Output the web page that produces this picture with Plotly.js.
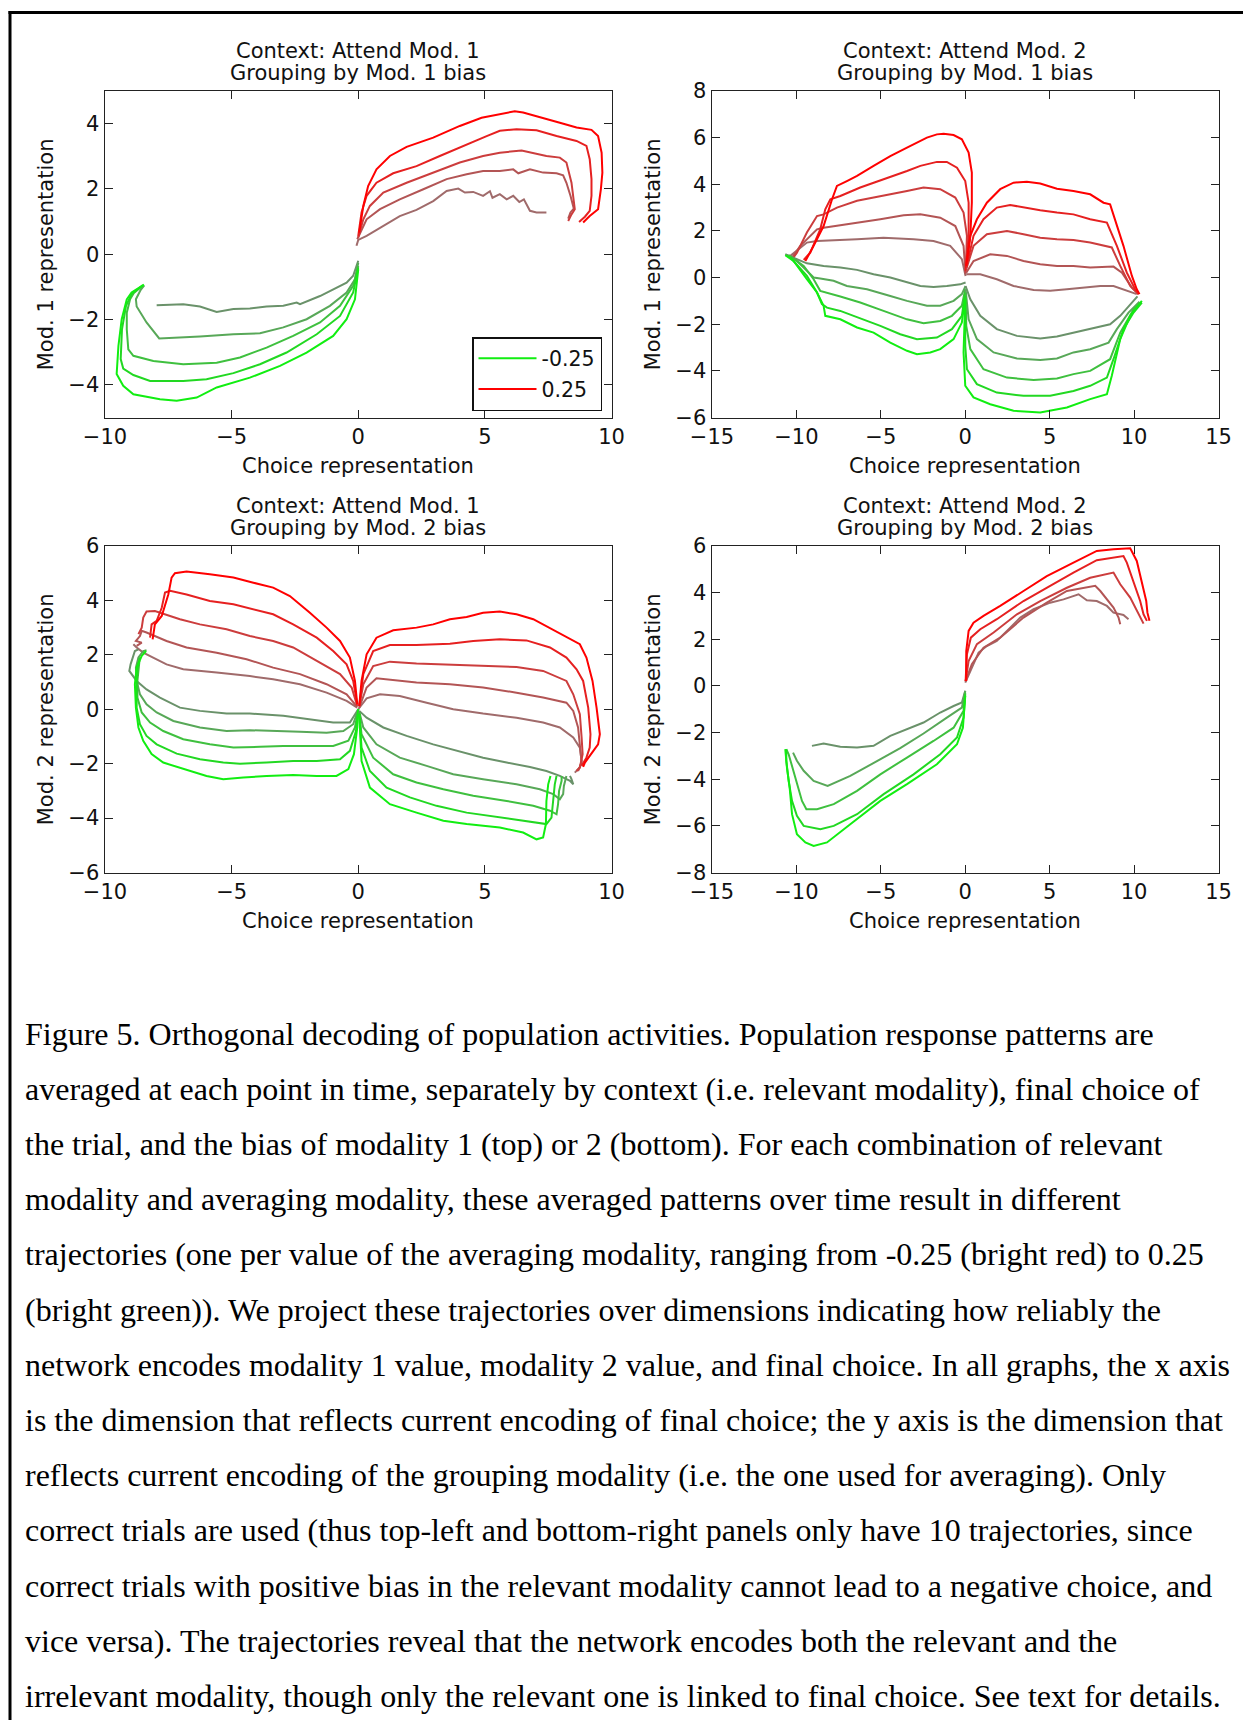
<!DOCTYPE html>
<html><head><meta charset="utf-8">
<script src="https://cdn.plot.ly/plotly-3.0.1.min.js"></script>
<style>html,body{margin:0;padding:0;background:#fff;}#chart{width:1243px;height:1720px;}</style>
</head><body><div id="chart"></div>
<script>
// ---------- shades (index 0 = bias ±0.25, brightest) ----------
const redShades   = ['#ff0000', '#e62020', '#cc3d3d', '#b35555', '#a06b6b'];
const greenShades = ['#11ee11', '#22d822', '#3fc03f', '#58a858', '#6a926a'];
const legendLabels = ['-0.25', '0.25'];

// ---------- Panel A: Attend Mod. 1, grouping by Mod. 1 bias ----------
const aRedX = [
 [0.04,0.20,0.39,0.72,1.25,1.91,2.96,4.01,4.87,5.59,6.18,6.51,7.30,7.96,8.62,9.21,9.47,9.61,9.64,9.58,9.47,9.14,8.88],
 [0.0,0.13,0.33,0.72,1.38,2.30,3.22,4.28,5.07,5.59,6.25,7.04,7.83,8.62,9.01,9.14,9.21,9.21,9.14,8.95,8.72],
 [0.0,0.20,0.46,0.99,1.91,2.96,4.01,4.93,5.59,6.45,6.91,7.43,7.96,8.22,8.42,8.49,8.55,8.42,8.29],
 [-0.04,0.33,0.86,1.64,2.57,3.49,4.28,4.93,5.59,6.12,6.32,6.78,7.30,7.83,8.09,8.22,8.38,8.51,8.38,8.29],
 [-0.07,0.0,0.33,0.99,1.64,2.30,2.96,3.49,3.95,4.21,4.54,4.93,5.20,5.30,5.59,5.86,6.12,6.36,6.54,6.78,7.04,7.43]
];
const aRedY = [
 [0.66,1.48,2.09,2.60,3.01,3.29,3.57,3.93,4.18,4.29,4.38,4.34,4.18,4.03,3.88,3.81,3.62,3.11,2.50,1.99,1.38,1.17,0.97],
 [0.56,1.28,1.79,2.19,2.48,2.70,3.01,3.37,3.62,3.78,3.83,3.80,3.62,3.47,3.32,2.91,2.30,1.79,1.33,1.15,0.99],
 [0.51,1.07,1.48,1.89,2.19,2.50,2.81,3.01,3.11,3.18,3.11,3.01,2.96,2.81,2.19,1.68,1.38,1.22,1.02],
 [0.46,1.07,1.38,1.68,1.99,2.30,2.45,2.55,2.55,2.60,2.48,2.60,2.50,2.48,2.42,2.19,1.79,1.40,1.28,1.09],
 [0.26,0.44,0.56,0.87,1.17,1.36,1.63,1.94,2.01,1.89,1.91,1.79,1.93,1.73,1.84,1.68,1.79,1.60,1.68,1.33,1.28,1.28]
];
const aGreenX = [
 [0,-0.13,-0.46,-0.99,-2.04,-3.09,-4.28,-5.59,-6.38,-7.17,-7.83,-8.88,-9.28,-9.54,-9.47,-9.34,-9.14,-8.95,-8.46],
 [0,-0.20,-0.72,-1.64,-2.83,-3.88,-4.93,-5.99,-6.91,-8.22,-8.88,-9.28,-9.38,-9.33,-9.17,-8.95,-8.51],
 [0,-0.20,-0.72,-1.51,-2.57,-3.62,-4.67,-5.59,-6.91,-8.09,-8.88,-9.08,-9.14,-9.14,-9.01,-8.86,-8.49],
 [0,-0.13,-0.46,-1.12,-2.04,-2.96,-3.88,-4.93,-6.25,-6.91,-7.86,-8.36,-8.75,-8.78,-8.59,-8.45],
 [0,-0.20,-0.46,-0.99,-1.51,-2.30,-2.43,-2.96,-3.62,-4.28,-4.93,-5.59,-6.25,-6.91,-7.57,-7.96]
];
const aGreenY = [
 [-0.46,-1.38,-1.99,-2.50,-3.01,-3.42,-3.78,-4.08,-4.39,-4.49,-4.44,-4.29,-4.03,-3.67,-2.81,-1.99,-1.38,-1.17,-0.93],
 [-0.41,-1.17,-1.89,-2.45,-3.01,-3.37,-3.64,-3.83,-3.88,-3.88,-3.70,-3.50,-3.21,-2.30,-1.58,-1.22,-0.95],
 [-0.36,-0.97,-1.58,-2.09,-2.50,-2.86,-3.16,-3.32,-3.37,-3.27,-3.11,-2.91,-2.30,-1.79,-1.38,-1.19,-0.95],
 [-0.26,-0.77,-1.17,-1.58,-1.99,-2.24,-2.42,-2.45,-2.52,-2.55,-2.58,-2.09,-1.60,-1.38,-1.09,-0.95],
 [-0.20,-0.66,-0.87,-1.07,-1.28,-1.53,-1.48,-1.58,-1.60,-1.66,-1.68,-1.77,-1.60,-1.53,-1.56,-1.56]
];

// ---------- Panel B: Attend Mod. 2, grouping by Mod. 1 bias ----------
const bRedLeftX = [
 [0.04,0.30,0.39,0.39,0.20,-0.20,-0.69,-1.28,-1.68,-2.27,-3.45,-4.44,-5.43,-6.41,-7.01,-7.60,-7.89,-8.39,-8.98,-9.47],
 [0.02,0.20,0.20,0.0,-0.49,-1.09,-1.68,-2.66,-3.45,-4.84,-6.22,-7.40,-7.99,-8.29,-8.59,-9.18,-9.57],
 [0.02,0.10,-0.10,-0.59,-1.48,-2.47,-3.45,-5.03,-6.41,-7.60,-8.39,-8.78,-9.38,-9.97,-10.17],
 [0.02,-0.10,-0.59,-1.48,-2.66,-3.65,-5.03,-6.41,-7.40,-8.39,-8.78,-9.18,-9.77,-10.26],
 [0.02,-0.20,-0.89,-1.88,-3.06,-4.84,-6.41,-7.79,-8.78,-9.38,-9.87,-10.36]
];
const bRedLeftY = [
 [0.36,1.79,3.21,4.50,5.36,5.93,6.11,6.17,6.14,6.00,5.57,5.21,4.79,4.36,4.14,3.93,3.36,2.21,1.36,0.71],
 [0.29,1.79,3.21,4.14,4.71,4.96,4.96,4.79,4.57,4.21,3.86,3.50,3.36,2.93,2.07,1.07,0.76],
 [0.21,1.79,2.79,3.43,3.79,3.86,3.71,3.50,3.29,3.00,2.71,2.64,1.93,1.07,0.86],
 [0.14,1.36,2.21,2.57,2.71,2.67,2.50,2.36,2.24,2.14,2.07,1.79,1.36,0.86],
 [0.07,0.79,1.36,1.57,1.64,1.71,1.64,1.61,1.57,1.50,1.21,0.93]
];
const bRedRightX = [
 [0.06,0.30,0.69,1.28,2.07,2.86,3.65,4.44,5.43,6.41,7.40,8.19,8.58,8.88,9.37,9.87,10.16,10.32],
 [0.06,0.49,1.08,1.87,2.66,3.45,4.44,5.43,6.41,7.40,8.39,8.98,9.57,10.06,10.28],
 [0.06,0.49,1.28,2.47,3.45,4.44,5.43,6.41,7.40,8.68,9.18,9.77,10.26],
 [0.06,0.49,1.48,2.47,3.45,4.44,5.43,6.41,7.40,8.78,9.28,9.87,10.26],
 [0.06,0.89,1.87,2.86,4.05,5.03,6.02,7.01,8.00,8.78,9.37,10.16]
];
const bRedRightY = [
 [0.50,1.79,2.50,3.21,3.79,4.07,4.11,4.03,3.81,3.71,3.57,3.21,3.14,2.50,1.36,0.07,-0.50,-0.71],
 [0.43,1.79,2.50,3.00,3.11,3.00,2.89,2.79,2.71,2.50,2.36,1.36,0.21,-0.50,-0.71],
 [0.36,1.36,1.86,2.00,1.86,1.71,1.64,1.61,1.50,1.29,0.50,-0.36,-0.71],
 [0.21,0.71,1.00,0.93,0.71,0.57,0.50,0.50,0.43,0.47,0.21,-0.43,-0.71],
 [0.14,0.14,-0.07,-0.36,-0.53,-0.57,-0.50,-0.43,-0.36,-0.36,-0.50,-0.71]
];
const bGreenLeftX = [
 [0.0,-0.20,-0.69,-1.48,-2.07,-2.86,-3.45,-4.44,-5.43,-6.41,-7.40,-7.99,-8.29,-8.39,-8.78,-9.38,-10.17,-10.66],
 [0.0,-0.20,-0.79,-1.68,-2.86,-3.85,-5.03,-6.41,-7.40,-8.19,-8.49,-8.78,-9.38,-10.36],
 [0.0,-0.20,-0.79,-1.48,-2.47,-3.45,-4.84,-6.22,-7.40,-8.19,-8.59,-8.98,-9.57,-10.46],
 [0.02,-0.20,-0.69,-1.48,-2.27,-3.45,-4.44,-5.82,-7.01,-7.80,-8.59,-8.98,-9.38,-9.97,-10.56],
 [0.02,-0.30,-1.09,-1.88,-2.66,-3.45,-4.44,-5.43,-6.41,-7.40,-8.39,-9.38,-10.17,-10.66]
];
const bGreenLeftY = [
 [-0.79,-1.93,-2.64,-3.07,-3.21,-3.29,-3.14,-2.79,-2.36,-2.14,-1.79,-1.71,-1.64,-1.21,-0.64,-0.07,0.71,0.96],
 [-0.64,-1.64,-2.21,-2.57,-2.64,-2.43,-2.07,-1.71,-1.43,-1.29,-1.14,-0.64,0.07,0.86],
 [-0.50,-1.21,-1.64,-1.86,-1.96,-1.79,-1.43,-1.07,-0.81,-0.67,-0.57,-0.07,0.50,0.96],
 [-0.36,-0.71,-1.00,-1.21,-1.21,-1.00,-0.79,-0.50,-0.36,-0.14,-0.04,0.00,0.29,0.71,0.96],
 [-0.21,-0.29,-0.36,-0.40,-0.36,-0.21,0.00,0.14,0.33,0.43,0.50,0.61,0.86,1.00]
];
const bGreenRightX = [
 [0.0,-0.10,0.0,0.49,1.48,2.86,4.44,6.02,7.40,8.39,8.68,9.18,9.77,10.46],
 [0.0,0.0,0.10,0.69,1.87,3.45,5.03,6.41,7.40,8.39,8.78,9.37,9.97,10.46],
 [0.02,0.06,0.30,1.08,2.47,4.05,5.43,6.41,7.40,8.58,9.18,9.97,10.40],
 [0.02,0.20,0.69,1.68,3.06,4.44,5.43,6.41,7.40,8.49,8.98,9.67,10.32],
 [0.02,0.30,0.89,1.87,3.06,4.44,5.43,6.41,7.40,8.58,9.18,9.77,10.20]
];
const bGreenRightY = [
 [-0.93,-3.21,-4.64,-5.14,-5.43,-5.71,-5.79,-5.57,-5.21,-5.00,-4.21,-2.64,-1.64,-1.00],
 [-0.79,-2.93,-3.93,-4.57,-4.93,-5.07,-5.07,-4.86,-4.64,-4.29,-3.50,-2.21,-1.50,-1.07],
 [-0.64,-2.07,-3.07,-3.93,-4.29,-4.39,-4.33,-4.14,-4.00,-3.50,-2.36,-1.36,-1.07],
 [-0.50,-1.79,-2.64,-3.21,-3.47,-3.53,-3.47,-3.21,-3.07,-2.79,-2.21,-1.50,-1.04],
 [-0.36,-0.93,-1.64,-2.21,-2.50,-2.61,-2.53,-2.36,-2.21,-2.00,-1.64,-1.14,-0.81]
];

// ---------- Panel C: Attend Mod. 1, grouping by Mod. 2 bias ----------
const cRedLeftX = [
 [-0.04,-0.13,-0.33,-0.72,-1.25,-1.91,-2.70,-3.36,-4.14,-4.93,-5.86,-6.78,-7.24,-7.37,-7.50,-7.76,-8.03,-8.12],
 [-0.04,-0.20,-0.46,-0.99,-1.64,-2.57,-3.36,-4.14,-4.93,-5.86,-6.78,-7.43,-7.63,-7.76,-7.96,-8.16,-8.22],
 [-0.04,-0.26,-0.72,-1.64,-2.57,-3.36,-4.28,-5.20,-6.25,-7.04,-7.70,-8.03,-8.36,-8.49,-8.55,-8.68],
 [-0.04,-0.46,-1.25,-2.30,-3.36,-4.41,-5.59,-6.78,-7.57,-8.09,-8.36,-8.55,-8.62,-8.78,-8.55,-8.75],
 [-0.04,-0.46,-1.25,-2.30,-3.36,-4.28,-5.59,-6.91,-7.57,-8.09,-8.49,-8.75,-8.88]
];
const cRedLeftY = [
 [0.18,1.04,1.90,2.51,3.00,3.55,4.16,4.47,4.65,4.84,4.96,5.06,5.00,4.84,4.22,3.43,3.12,2.57],
 [0.18,1.04,1.65,2.14,2.63,3.12,3.49,3.67,3.86,3.98,4.22,4.35,4.29,3.73,3.25,3.12,2.63],
 [0.12,0.80,1.29,1.78,2.27,2.51,2.69,2.94,3.12,3.31,3.51,3.61,3.59,3.37,3.00,2.76],
 [0.09,0.55,0.92,1.29,1.53,1.84,2.08,2.27,2.51,2.73,2.82,2.88,2.69,2.51,2.45,2.33],
 [0.06,0.31,0.61,0.92,1.10,1.22,1.35,1.47,1.65,1.90,2.08,2.27,2.39]
];
const cRedRightX = [
 [0.04,0.13,0.33,0.72,1.38,2.30,2.96,3.62,4.28,4.93,5.59,6.25,6.91,7.57,8.22,8.75,9.01,9.25,9.41,9.54,9.47,9.21,8.95,8.88],
 [0.04,0.20,0.59,1.25,2.30,3.62,4.54,5.59,6.64,7.57,8.22,8.62,8.88,9.08,9.17,9.14,9.01,8.82],
 [0.04,0.20,0.59,1.25,2.30,3.62,4.93,6.25,7.30,8.22,8.49,8.75,8.82,8.86,8.75,8.62],
 [0.04,0.33,0.72,1.38,2.30,3.62,4.93,6.25,7.30,8.22,8.49,8.68,8.75,8.82,8.68],
 [0.0,0.33,0.86,1.64,2.70,3.75,4.93,6.25,7.30,7.96,8.49,8.75,8.82,8.75,8.55]
];
const cRedRightY = [
 [0.12,1.04,2.02,2.63,2.90,3.00,3.12,3.31,3.39,3.55,3.59,3.49,3.31,2.98,2.63,2.39,1.90,1.04,0.06,-0.92,-1.29,-1.65,-1.96,-2.12],
 [0.12,1.29,2.14,2.36,2.36,2.41,2.51,2.57,2.53,2.27,1.90,1.47,1.04,0.06,-0.92,-1.41,-1.78,-2.08],
 [0.10,0.92,1.59,1.75,1.68,1.63,1.59,1.55,1.41,1.04,0.55,-0.18,-1.04,-1.65,-2.14,-2.27],
 [0.06,0.80,1.14,1.07,0.98,0.92,0.80,0.61,0.43,0.24,-0.06,-0.67,-1.41,-1.96,-2.27],
 [0.0,0.40,0.55,0.49,0.24,0.0,-0.16,-0.31,-0.49,-0.67,-1.04,-1.41,-1.90,-2.14,-2.33]
];
const cGreenLeftX = [
 [0.0,-0.04,-0.17,-0.39,-0.86,-1.64,-2.57,-3.62,-4.54,-5.33,-5.99,-6.91,-7.70,-8.16,-8.49,-8.68,-8.78,-8.82,-8.75,-8.55,-8.38],
 [0.0,-0.09,-0.33,-0.72,-1.64,-2.57,-3.62,-4.67,-5.33,-6.25,-7.17,-7.96,-8.36,-8.62,-8.75,-8.75,-8.72,-8.62],
 [0.0,-0.13,-0.39,-0.99,-2.04,-2.96,-3.88,-4.93,-5.86,-6.91,-7.70,-8.22,-8.55,-8.72,-8.72,-8.64],
 [0.0,-0.20,-0.59,-1.25,-2.30,-3.36,-4.28,-5.20,-6.25,-7.30,-7.96,-8.36,-8.62,-8.75,-8.78,-8.68,-8.49,-8.36],
 [0.0,-0.33,-0.99,-1.91,-2.96,-4.28,-5.20,-6.25,-7.04,-7.83,-8.36,-8.75,-8.95,-9.04,-8.99,-8.88,-8.82,-8.68]
];
const cGreenLeftY = [
 [0.0,-0.67,-1.65,-2.20,-2.45,-2.45,-2.42,-2.45,-2.51,-2.57,-2.45,-2.20,-1.96,-1.65,-1.16,-0.67,0.06,0.92,1.53,1.96,2.14],
 [0.0,-0.80,-1.53,-1.84,-1.90,-1.90,-1.96,-2.00,-1.96,-1.84,-1.63,-1.29,-0.98,-0.55,0.06,0.92,1.53,1.90],
 [0.0,-0.67,-1.16,-1.35,-1.35,-1.35,-1.38,-1.41,-1.29,-1.10,-0.80,-0.49,-0.12,0.43,1.04,1.78],
 [0.0,-0.55,-0.80,-0.86,-0.83,-0.80,-0.77,-0.80,-0.67,-0.43,-0.12,0.18,0.55,1.04,1.53,1.90,2.14,2.17],
 [0.0,-0.49,-0.49,-0.37,-0.24,-0.16,-0.16,-0.06,0.06,0.43,0.73,1.04,1.29,1.41,1.65,1.96,2.14,2.20]
];
const cGreenRightX = [
 [0.04,0.13,0.46,1.25,2.30,3.36,4.28,5.59,6.51,7.04,7.30,7.41,7.43,7.50,7.59],
 [0.04,0.13,0.46,1.12,2.04,3.09,4.28,5.59,6.91,7.43,7.63,7.70,7.76,7.83],
 [0.04,0.13,0.59,1.38,2.30,3.36,4.54,5.86,6.91,7.57,7.83,7.89,7.93,8.03,8.03],
 [0.04,0.20,0.72,1.64,2.70,3.75,4.93,6.25,7.17,7.70,7.96,8.09,8.12,8.20,8.22],
 [0.04,0.33,0.99,1.91,2.96,4.01,4.93,5.86,6.78,7.43,7.96,8.36,8.49,8.42,8.36]
];
const cGreenRightY = [
 [-0.18,-1.90,-2.88,-3.49,-3.80,-4.10,-4.22,-4.35,-4.53,-4.78,-4.71,-4.22,-3.37,-2.76,-2.45],
 [-0.16,-1.41,-2.27,-2.88,-3.24,-3.55,-3.80,-3.98,-4.16,-4.22,-3.98,-3.37,-2.76,-2.45],
 [-0.12,-0.92,-1.78,-2.39,-2.69,-2.94,-3.18,-3.37,-3.55,-3.73,-3.86,-3.49,-3.00,-2.63,-2.45],
 [-0.09,-0.67,-1.29,-1.78,-2.08,-2.39,-2.57,-2.76,-2.94,-3.12,-3.31,-3.12,-2.82,-2.51,-2.45],
 [-0.06,-0.31,-0.67,-0.98,-1.29,-1.55,-1.78,-1.96,-2.12,-2.27,-2.45,-2.63,-2.76,-2.57,-2.45]
];

// ---------- Panel D: Attend Mod. 2, grouping by Mod. 2 bias ----------
const dRedX = [
 [0.06,0.06,0.20,0.49,1.08,2.07,3.45,4.83,6.41,7.79,8.78,9.77,10.16,10.46,10.72,10.79,10.91],
 [0.02,0.10,0.33,0.89,1.87,3.45,5.03,6.41,7.79,9.37,9.57,9.97,10.36,10.56,10.76],
 [0.02,0.20,0.69,1.68,3.06,4.44,6.02,7.40,8.78,9.18,9.77,10.06,10.36,10.56],
 [0.02,0.39,1.08,2.07,3.45,4.83,6.02,7.01,7.70,8.00,8.39,8.78,9.08,9.18],
 [0.0,0.30,0.49,0.79,1.28,1.87,2.47,3.26,4.05,5.03,5.82,6.41,6.71,7.20,7.79,8.39,8.78,9.37,9.67]
];
const dRedY = [
 [0.21,1.50,2.36,2.71,3.00,3.43,4.07,4.71,5.29,5.79,5.86,5.90,5.36,4.50,3.64,3.14,2.79],
 [0.21,1.36,2.07,2.43,2.86,3.64,4.29,4.86,5.39,5.57,5.29,4.50,3.64,3.07,2.79],
 [0.21,1.07,1.79,2.29,3.07,3.64,4.21,4.64,4.86,4.36,3.79,3.36,2.93,2.67],
 [0.21,0.93,1.64,2.07,2.93,3.57,4.07,4.21,4.29,4.07,3.71,3.36,2.93,2.64],
 [0.14,0.64,1.00,1.43,1.71,1.93,2.36,2.93,3.29,3.57,3.71,3.86,3.93,3.67,3.64,3.43,3.14,3.04,2.86]
];
const dGreenX = [
 [0.0,-0.14,-0.49,-1.68,-3.45,-5.03,-6.81,-8.19,-8.98,-9.47,-9.97,-10.26,-10.40,-10.56,-10.66],
 [0.0,-0.10,-0.49,-1.48,-3.06,-4.83,-6.41,-7.79,-8.58,-9.57,-9.97,-10.26,-10.46,-10.60,-10.60],
 [0.0,-0.10,-0.69,-1.88,-3.45,-5.03,-6.41,-7.79,-8.78,-9.41,-9.67,-9.97,-10.26,-10.46,-10.60],
 [0.0,-0.20,-1.09,-2.47,-3.85,-5.43,-6.81,-8.15,-8.98,-9.57,-9.97,-10.20],
 [0.0,-0.20,-0.69,-1.48,-2.47,-3.45,-4.44,-5.43,-6.41,-7.40,-8.39,-9.08]
];
const dGreenY = [
 [-0.43,-1.79,-2.50,-3.36,-4.21,-4.93,-5.93,-6.71,-6.86,-6.71,-6.36,-5.50,-4.36,-3.50,-2.71],
 [-0.36,-1.36,-2.21,-2.93,-3.79,-4.64,-5.50,-6.00,-6.14,-6.00,-5.57,-4.93,-4.07,-3.21,-2.71],
 [-0.29,-1.07,-1.79,-2.36,-3.07,-3.79,-4.50,-5.07,-5.29,-5.29,-4.93,-4.21,-3.50,-2.93,-2.71],
 [-0.21,-0.93,-1.36,-2.04,-2.67,-3.29,-3.86,-4.29,-4.07,-3.64,-3.21,-2.86],
 [-0.21,-0.71,-0.86,-1.14,-1.57,-1.86,-2.14,-2.57,-2.64,-2.61,-2.47,-2.57]
];

// ---------- text ----------
const panelTitles = [
 ['Context: Attend Mod. 1', 'Grouping by Mod. 1 bias'],
 ['Context: Attend Mod. 2', 'Grouping by Mod. 1 bias'],
 ['Context: Attend Mod. 1', 'Grouping by Mod. 2 bias'],
 ['Context: Attend Mod. 2', 'Grouping by Mod. 2 bias']
];
const xTitle = 'Choice representation';
const yTitles = ['Mod. 1 representation', 'Mod. 1 representation', 'Mod. 2 representation', 'Mod. 2 representation'];
const captionLines = [
 'Figure 5. Orthogonal decoding of population activities. Population response patterns are',
 'averaged at each point in time, separately by context (i.e. relevant modality), final choice of',
 'the trial, and the bias of modality 1 (top) or 2 (bottom). For each combination of relevant',
 'modality and averaging modality, these averaged patterns over time result in different',
 'trajectories (one per value of the averaging modality, ranging from -0.25 (bright red) to 0.25',
 '(bright green)). We project these trajectories over dimensions indicating how reliably the',
 'network encodes modality 1 value, modality 2 value, and final choice. In all graphs, the x axis',
 'is the dimension that reflects current encoding of final choice; the y axis is the dimension that',
 'reflects current encoding of the grouping modality (i.e. the one used for averaging). Only',
 'correct trials are used (thus top-left and bottom-right panels only have 10 trajectories, since',
 'correct trials with positive bias in the relevant modality cannot lead to a negative choice, and',
 'vice versa). The trajectories reveal that the network encodes both the relevant and the',
 'irrelevant modality, though only the relevant one is linked to final choice. See text for details.'
];

// ---------- build ----------
const W = 1243, H = 1720;
const px = v => v / W;
const py = v => 1 - v / H;
const FONT = 'DejaVu Sans';
const traces = [];
function addGroup(xs, ys, shades, xa, ya, legendName) {
  for (let i = xs.length - 1; i >= 0; i--) {
    const t = {type: 'scatter', mode: 'lines', x: xs[i], y: ys[i], xaxis: xa, yaxis: ya,
      line: {color: shades[i], width: 2}, hoverinfo: 'skip', showlegend: false};
    if (legendName && i === 0) { t.name = legendName; t.showlegend = true; t.legendgroup = legendName; }
    traces.push(t);
  }
}
addGroup(aGreenX, aGreenY, greenShades, 'x', 'y', legendLabels[0]);
addGroup(aRedX, aRedY, redShades, 'x', 'y', legendLabels[1]);
addGroup(bRedLeftX, bRedLeftY, redShades, 'x2', 'y2');
addGroup(bRedRightX, bRedRightY, redShades, 'x2', 'y2');
addGroup(bGreenLeftX, bGreenLeftY, greenShades, 'x2', 'y2');
addGroup(bGreenRightX, bGreenRightY, greenShades, 'x2', 'y2');
addGroup(cRedLeftX, cRedLeftY, redShades, 'x3', 'y3');
addGroup(cRedRightX, cRedRightY, redShades, 'x3', 'y3');
addGroup(cGreenLeftX, cGreenLeftY, greenShades, 'x3', 'y3');
addGroup(cGreenRightX, cGreenRightY, greenShades, 'x3', 'y3');
addGroup(dRedX, dRedY, redShades, 'x4', 'y4');
addGroup(dGreenX, dGreenY, greenShades, 'x4', 'y4');

// panel frames in page pixels: [left, right, top, bottom]
const frames = [[105, 611.5, 91, 417.5], [712, 1218.5, 91, 417.5], [105, 611.5, 546, 872.5], [712, 1218.5, 546, 872.5]];
const xRanges = [[-10, 10], [-15, 15], [-10, 10], [-15, 15]];
const yRanges = [[-5, 5], [-6, 8], [-6, 6], [-8, 6]];

function axisBase() {
  return {ticks: 'inside', ticklen: 8, tickwidth: 1, tickcolor: '#222', mirror: 'ticks',
    showline: true, linecolor: '#222', linewidth: 1.5, showgrid: false, zeroline: false,
    tickfont: {family: FONT, size: 21, color: '#111'}, fixedrange: true, tickmode: 'linear', tick0: 0};
}
const layout = {
  width: W, height: H, margin: {l: 0, r: 0, t: 0, b: 0},
  paper_bgcolor: '#ffffff', plot_bgcolor: '#ffffff', showlegend: true, hovermode: false,
  legend: {x: px(472), y: py(337), xanchor: 'left', yanchor: 'top', bgcolor: '#ffffff',
    bordercolor: '#111', borderwidth: 1.5, font: {family: FONT, size: 20.5, color: '#111'},
    itemwidth: 58, tracegroupgap: 1, traceorder: 'grouped'},
  annotations: [], shapes: []
};
frames.forEach((f, k) => {
  const s = k === 0 ? '' : String(k + 1);
  const xa = Object.assign(axisBase(), {domain: [px(f[0]), px(f[1])], range: xRanges[k], dtick: 5, anchor: 'y' + s});
  const ya = Object.assign(axisBase(), {domain: [py(f[3]), py(f[2])], range: yRanges[k], dtick: 2, anchor: 'x' + s});
  layout['xaxis' + s] = xa;
  layout['yaxis' + s] = ya;
  const cx = (f[0] + f[1]) / 2, cy = (f[2] + f[3]) / 2;
  const tFont = {family: FONT, size: 21, color: '#111'};
  layout.annotations.push({text: panelTitles[k][0], x: px(cx), y: py(f[2] - 40.3), xref: 'paper', yref: 'paper', xanchor: 'center', yanchor: 'middle', showarrow: false, font: tFont});
  layout.annotations.push({text: panelTitles[k][1], x: px(cx), y: py(f[2] - 18.3), xref: 'paper', yref: 'paper', xanchor: 'center', yanchor: 'middle', showarrow: false, font: tFont});
  layout.annotations.push({text: xTitle, x: px(cx), y: py(f[3] + 48), xref: 'paper', yref: 'paper', xanchor: 'center', yanchor: 'middle', showarrow: false, font: tFont});
  layout.annotations.push({text: yTitles[k], x: px(f[0] - 59), y: py(cy), xref: 'paper', yref: 'paper', xanchor: 'center', yanchor: 'middle', textangle: -90, showarrow: false, font: tFont});
});
captionLines.forEach((line, i) => {
  layout.annotations.push({text: line, x: px(23), y: py(1033.5 + i * 55.2), xref: 'paper', yref: 'paper',
    xanchor: 'left', yanchor: 'middle', showarrow: false, align: 'left',
    font: {family: 'Liberation Serif', size: 32, color: '#000'}});
});
layout.shapes.push({type: 'line', xref: 'paper', yref: 'paper', x0: px(8.5), x1: 1, y0: py(12.5), y1: py(12.5), line: {color: '#000', width: 3}});
layout.shapes.push({type: 'line', xref: 'paper', yref: 'paper', x0: px(10), x1: px(10), y0: py(11), y1: 0, line: {color: '#000', width: 3}});

Plotly.newPlot('chart', traces, layout, {staticPlot: true, displayModeBar: false});
</script>
</body></html>
